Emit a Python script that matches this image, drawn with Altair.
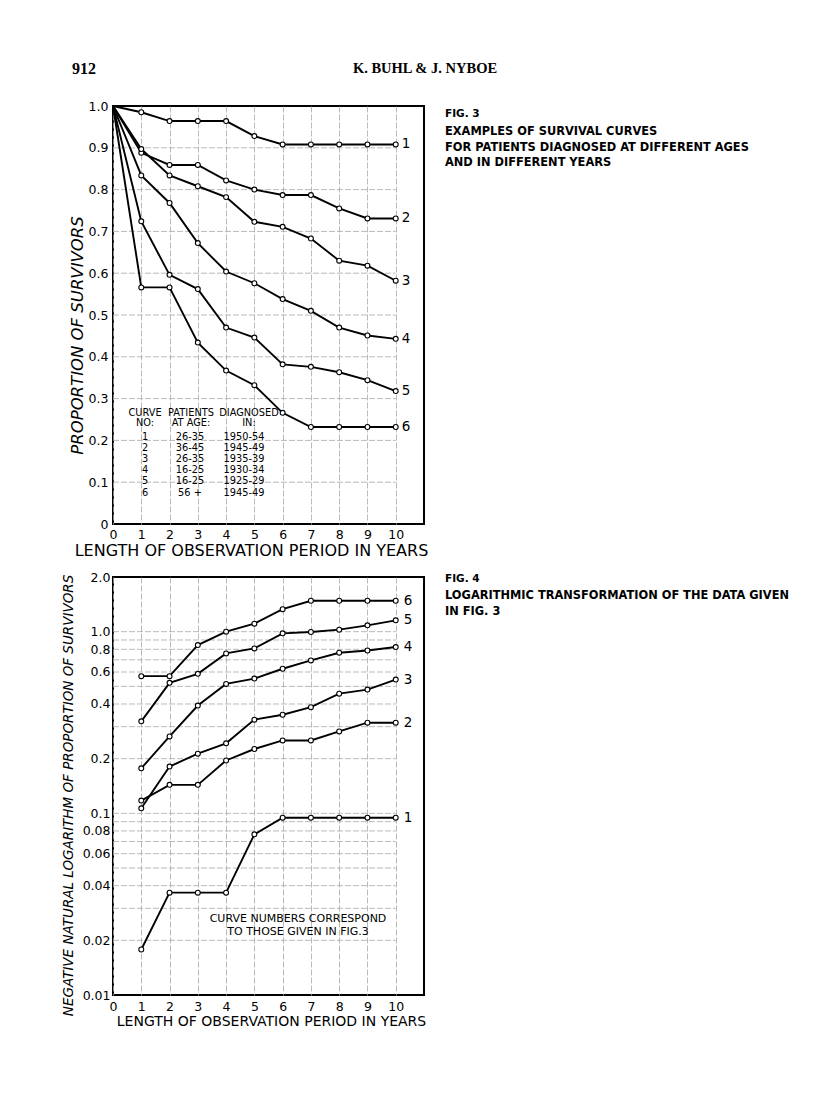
import altair as alt
import pandas as pd

# ---------------- data ----------------
years = [0, 1, 2, 3, 4, 5, 6, 7, 8, 9, 10]
curve_ids = ["1", "2", "3", "4", "5", "6"]

# Fig. 3: proportion of survivors
surv_1 = [1.0, 0.985, 0.964, 0.964, 0.964, 0.928, 0.908, 0.908, 0.908, 0.908, 0.908]
surv_2 = [1.0, 0.888, 0.859, 0.859, 0.822, 0.800, 0.787, 0.787, 0.755, 0.731, 0.731]
surv_3 = [1.0, 0.897, 0.834, 0.808, 0.782, 0.723, 0.711, 0.683, 0.630, 0.618, 0.582]
surv_4 = [1.0, 0.834, 0.768, 0.672, 0.604, 0.576, 0.538, 0.510, 0.470, 0.451, 0.443]
surv_5 = [1.0, 0.724, 0.596, 0.562, 0.470, 0.446, 0.382, 0.376, 0.363, 0.344, 0.318]
surv_6 = [1.0, 0.566, 0.566, 0.434, 0.367, 0.332, 0.266, 0.232, 0.232, 0.232, 0.232]

# Fig. 4: negative natural logarithm of proportion of survivors
log_years = [1, 2, 3, 4, 5, 6, 7, 8, 9, 10]
nlog_1 = [0.0178, 0.0366, 0.0366, 0.0366, 0.0766, 0.0946, 0.0946, 0.0946, 0.0946, 0.0946]
nlog_2 = [0.1175, 0.1435, 0.1435, 0.1954, 0.226, 0.252, 0.252, 0.2826, 0.3155, 0.3155]
nlog_3 = [0.1066, 0.181, 0.213, 0.243, 0.328, 0.349, 0.384, 0.456, 0.480, 0.545]
nlog_4 = [0.177, 0.265, 0.392, 0.516, 0.552, 0.625, 0.695, 0.766, 0.788, 0.823]
nlog_5 = [0.321, 0.523, 0.586, 0.759, 0.809, 0.979, 0.996, 1.026, 1.084, 1.155]
nlog_6 = [0.569, 0.569, 0.844, 1.0, 1.107, 1.33, 1.48, 1.48, 1.48, 1.48]

# axes / ticks
x_ticks = [0, 1, 2, 3, 4, 5, 6, 7, 8, 9, 10]
x_domain = [0, 11]
surv_ticks = [0, 0.1, 0.2, 0.3, 0.4, 0.5, 0.6, 0.7, 0.8, 0.9, 1.0]
surv_grid = [0.1, 0.2, 0.3, 0.4, 0.5, 0.6, 0.7, 0.8, 0.9]
log_ticks = [0.01, 0.02, 0.04, 0.06, 0.08, 0.1, 0.2, 0.4, 0.6, 0.8, 1.0, 2.0]
log_grid = [0.02, 0.03, 0.04, 0.05, 0.06, 0.07, 0.08, 0.09,
            0.1, 0.2, 0.3, 0.4, 0.5, 0.6, 0.7, 0.8, 0.9, 1.0]
log_domain = [0.01, 2.0]

# legend table of Fig. 3
table_no = ["1", "2", "3", "4", "5", "6"]
table_age = ["26-35", "36-45", "26-35", "16-25", "16-25", "56 +"]
table_year = ["1950-54", "1945-49", "1935-39", "1930-34", "1925-29", "1945-49"]

# texts
page_number = "912"
running_head = "K. BUHL & J. NYBOE"
fig3_label = "FIG. 3"
fig3_caption = ["EXAMPLES OF SURVIVAL CURVES",
                "FOR PATIENTS DIAGNOSED AT DIFFERENT AGES",
                "AND IN DIFFERENT YEARS"]
fig4_label = "FIG. 4"
fig4_caption = ["LOGARITHMIC TRANSFORMATION OF THE DATA GIVEN", "IN  FIG.  3"]
fig4_note = ["CURVE NUMBERS CORRESPOND", "TO THOSE GIVEN IN FIG.3"]
x_title = "LENGTH OF OBSERVATION PERIOD IN YEARS"
y_title_top = "PROPORTION OF SURVIVORS"
y_title_bottom = "NEGATIVE NATURAL LOGARITHM OF PROPORTION OF SURVIVORS"

# ---------------- tables ----------------
surv_series = [surv_1, surv_2, surv_3, surv_4, surv_5, surv_6]
nlog_series = [nlog_1, nlog_2, nlog_3, nlog_4, nlog_5, nlog_6]

top_df = pd.DataFrame([
    {"year": y, "value": v, "curve": c}
    for c, s in zip(curve_ids, surv_series) for y, v in zip(years, s)
])
bot_df = pd.DataFrame([
    {"year": y, "value": v, "curve": c}
    for c, s in zip(curve_ids, nlog_series) for y, v in zip(log_years, s)
])
top_end = top_df[top_df["year"] == years[-1]]
bot_end = bot_df[bot_df["year"] == log_years[-1]]

top_grid_df = pd.DataFrame({"value": surv_grid, "year": x_ticks[0], "year2": x_ticks[-1]})
bot_grid_df = pd.DataFrame({"value": log_grid, "year": x_ticks[0], "year2": x_ticks[-1]})

SANS = "DejaVu Sans"
SERIF = "Liberation Serif"
W, H = 311, 418
GRID = "#a8a8a8"

x_scale = alt.Scale(domain=x_domain, nice=False, zero=False)
top_y_scale = alt.Scale(domain=[0, 1], nice=False)
bot_y_scale = alt.Scale(type="log", domain=log_domain, nice=False)


def x_axis(title_x, label_pad, title_size):
    return alt.Axis(values=x_ticks, title=x_title, grid=True, gridColor=GRID,
                    gridWidth=0.8, gridDash=[6, 2], ticks=False, domain=False,
                    labelFont=SANS, labelFontSize=12.5, labelPadding=label_pad,
                    labelColor="black", labelFlush=False,
                    titleFont=SANS, titleFontWeight="normal",
                    titleFontSize=title_size,
                    titleColor="black", titleX=title_x, titleY=26,
                    titleAlign="center", titleBaseline="middle")


def text_block(lines, x, y, size, weight="normal", font=SANS, align="left",
               line_height=None, baseline="top", style="normal"):
    kw = {}
    if line_height is not None:
        kw["lineHeight"] = line_height
    return alt.Chart(pd.DataFrame({"t": ["\n".join(lines)]})).mark_text(
        align=align, baseline=baseline, font=font, fontSize=size,
        fontWeight=weight, fontStyle=style, color="black", lineBreak="\n", **kw
    ).encode(x=alt.value(x), y=alt.value(y), text="t:N")


# ---------------- Fig. 3 ----------------
top_x = alt.X("year:Q", scale=x_scale, axis=x_axis(138, 4, 16))
top_y = alt.Y("value:Q", scale=top_y_scale,
              axis=alt.Axis(values=surv_ticks, title=y_title_top, grid=False,
                            ticks=False, domain=False, labelFont=SANS,
                            labelFontSize=12.5, labelPadding=5, labelColor="black",
                            labelFlush=False,
                            labelExpr="datum.value == 0 ? '0' : format(datum.value, '.1f')",
                            titleFont=SANS, titleFontSize=16.5,
                            titleFontStyle="italic", titleFontWeight="normal",
                            titleColor="black", titleX=-36, titleY=229,
                            titleAngle=-90, titleAlign="center",
                            titleBaseline="middle"))

top_grid = alt.Chart(top_grid_df).mark_rule(color=GRID, strokeWidth=0.8,
                                            strokeDash=[6, 2]).encode(
    x=top_x, x2="year2:Q", y=top_y)
top_lines = alt.Chart(top_df).mark_line(color="black", strokeWidth=1.9).encode(
    x=top_x, y=top_y, detail="curve:N", order="year:Q")
top_points = alt.Chart(top_df).transform_filter("datum.year > 0").mark_point(
    shape="circle", filled=True, fill="white", stroke="black", strokeWidth=1.1,
    size=24, opacity=1).encode(x=top_x, y=top_y)
top_labels = alt.Chart(top_end).mark_text(
    align="left", baseline="middle", dx=6, font=SANS, fontSize=13.5, color="black"
).encode(x=top_x, y=top_y, text="curve:N")

table_head = [
    text_block(["CURVE", "NO:"], 32, 302, 9.8, align="center", line_height=9.5),
    text_block(["PATIENTS", "AT AGE:"], 78, 302, 9.8, align="center", line_height=9.5),
    text_block(["DIAGNOSED", "IN:"], 136, 302, 9.8, align="center", line_height=9.5),
    text_block(table_no, 32, 326, 9.8, align="center", line_height=11.1),
    text_block(table_age, 77, 326, 9.8, align="center", line_height=11.1),
    text_block(table_year, 131, 326, 9.8, align="center", line_height=11.1),
]

page_texts = [
    text_block([page_number], -41, -37, 16, weight="bold", font=SERIF,
               baseline="middle"),
    text_block([running_head], 312, -37, 14.5, weight="bold", font=SERIF,
               align="center", baseline="middle"),
    text_block([fig3_label], 332, 8, 10.5, weight="bold", baseline="middle"),
    text_block(fig3_caption, 332, 20, 11.4, weight="bold", line_height=15.5),
]

fig3 = alt.layer(top_grid, top_lines, top_points, top_labels,
                 *table_head, *page_texts).properties(width=W, height=H)

# ---------------- Fig. 4 ----------------
bot_x = alt.X("year:Q", scale=x_scale, axis=x_axis(158, 5, 14))
bot_y = alt.Y("value:Q", scale=bot_y_scale,
              axis=alt.Axis(values=log_ticks, title=y_title_bottom, grid=False,
                            ticks=False, domain=False, labelFont=SANS,
                            labelFontSize=12.5, labelPadding=3, labelColor="black",
                            labelFlush=False,
                            labelExpr="datum.value >= 0.1 ? format(datum.value, '.1f') : format(datum.value, '.2f')",
                            titleFont=SANS, titleFontSize=13.5,
                            titleFontStyle="italic", titleFontWeight="normal",
                            titleColor="black", titleX=-45, titleY=218,
                            titleAngle=-90, titleAlign="center",
                            titleBaseline="middle"))

bot_grid = alt.Chart(bot_grid_df).mark_rule(color=GRID, strokeWidth=0.8,
                                            strokeDash=[6, 2]).encode(
    x=bot_x, x2="year2:Q", y=bot_y)
bot_lines = alt.Chart(bot_df).mark_line(color="black", strokeWidth=1.9).encode(
    x=bot_x, y=bot_y, detail="curve:N", order="year:Q")
bot_points = alt.Chart(bot_df).mark_point(
    shape="circle", filled=True, fill="white", stroke="black", strokeWidth=1.1,
    size=24, opacity=1).encode(x=bot_x, y=bot_y)
bot_labels = alt.Chart(bot_end).mark_text(
    align="left", baseline="middle", dx=8, font=SANS, fontSize=13.5, color="black"
).encode(x=bot_x, y=bot_y, text="curve:N")

bot_texts = [
    text_block([fig4_label], 332, 2, 10.5, weight="bold", baseline="middle"),
    text_block(fig4_caption, 332, 13, 11.4, weight="bold", line_height=15.5),
    text_block(fig4_note, 185, 336, 11, align="center", line_height=12.5),
]

fig4 = alt.layer(bot_grid, bot_lines, bot_points, bot_labels,
                 *bot_texts).properties(width=W, height=H)

chart = alt.vconcat(fig3, fig4, spacing=53, bounds="flush").properties(
    padding={"left": 51, "top": 52, "right": 5, "bottom": 5}
).configure(background="white").configure_view(stroke="black", strokeWidth=2)

chart.save("out.html", embed_options={"renderer": "svg", "actions": False})
